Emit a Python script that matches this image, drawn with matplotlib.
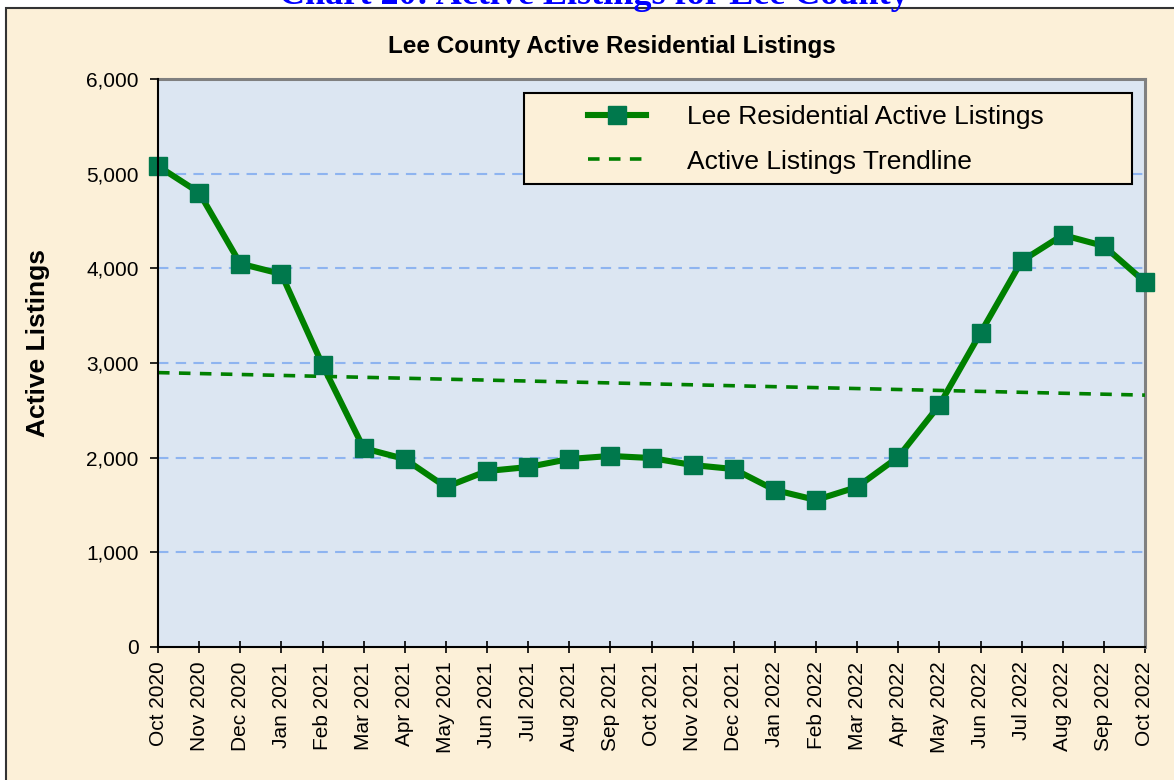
import numpy as np
import matplotlib
matplotlib.use("Agg")
import matplotlib.pyplot as plt
from matplotlib.patches import Rectangle
from matplotlib.ticker import FuncFormatter

months = ["Oct 2020", "Nov 2020", "Dec 2020", "Jan 2021", "Feb 2021", "Mar 2021",
          "Apr 2021", "May 2021", "Jun 2021", "Jul 2021", "Aug 2021", "Sep 2021",
          "Oct 2021", "Nov 2021", "Dec 2021", "Jan 2022", "Feb 2022", "Mar 2022",
          "Apr 2022", "May 2022", "Jun 2022", "Jul 2022", "Aug 2022", "Sep 2022",
          "Oct 2022"]
active_listings = [5080, 4800, 4050, 3940, 2980, 2100, 1986, 1690, 1859, 1901,
                   1986, 2018, 1996, 1922, 1880, 1658, 1553, 1690, 2007, 2556,
                   3317, 4077, 4352, 4236, 3856]
yticks = [0, 1000, 2000, 3000, 4000, 5000, 6000]

plt.rcParams['font.family'] = ['Liberation Sans', 'DejaVu Sans']

W, H = 1174, 780
fig = plt.figure(figsize=(W / 100, H / 100), dpi=100)
fig.patch.set_facecolor('white')

# outer chart box
fig.patches.append(Rectangle((6 / W, -0.1), 1.2, 1.1 - 8 / H, transform=fig.transFigure,
                             facecolor='#FCF0D8', edgecolor='#333333', linewidth=1.5,
                             zorder=-10))

# page title (cut off at the top)
fig.text(594 / W, 1 - 4 / H, "Chart 20: Active Listings for Lee County",
         ha='center', va='baseline', color='#0000FF', fontsize=26,
         fontweight='bold', family=['Liberation Serif', 'DejaVu Serif'])

left, right, top, bottom = 158, 1145, 79, 647
ax = fig.add_axes([left / W, 1 - bottom / H, (right - left) / W, (bottom - top) / H])
ax.set_facecolor('#DCE6F2')

x = np.arange(len(months))
y = np.array(active_listings, dtype=float)

# linear trendline
coef = np.polyfit(x, y, 1)
trend = np.polyval(coef, x)

ax.plot(x, trend, linestyle=(0, (3.2, 2.6)), color='#008000', linewidth=2.6,
        label='Active Listings Trendline', zorder=3)
ax.plot(x, y, color='#008000', linewidth=4.4, marker='s', markersize=13.5,
        markerfacecolor='#00784C', markeredgecolor='#00784C',
        label='Lee Residential Active Listings', zorder=4, clip_on=False)

ax.set_xlim(0, len(months) - 1)
ax.set_ylim(0, 6000)
ax.set_yticks(yticks)
ax.yaxis.set_major_formatter(FuncFormatter(lambda v, p: f"{int(v):,}"))
ax.set_xticks(x)
ax.set_xticklabels(months, rotation=90)

for v in yticks[1:-1]:
    ax.axhline(v, color='#8EB4F0', linewidth=1.5, linestyle=(0, (5, 3.5)), zorder=1)

ax.tick_params(axis='y', direction='out', length=6, width=1.2, labelsize=15, pad=8,
               colors='black')
ax.tick_params(axis='x', direction='inout', length=9, width=1.2, labelsize=15, pad=6,
               colors='black')

for s in ['left', 'bottom']:
    ax.spines[s].set_color('black')
    ax.spines[s].set_linewidth(1.5)
    ax.spines[s].set_zorder(5)
for s in ['top', 'right']:
    ax.spines[s].set_color('#808080')
    ax.spines[s].set_linewidth(2.2)

# legend box
lx0, lx1, ly0, ly1 = 524, 1132, 93, 184
ax.add_patch(Rectangle(((lx0 - left) / (right - left), (bottom - ly1) / (bottom - top)),
                       (lx1 - lx0) / (right - left), (ly1 - ly0) / (bottom - top),
                       transform=ax.transAxes, facecolor='#FCF0D8', edgecolor='black',
                       linewidth=1.5, zorder=6))
handles, labels = ax.get_legend_handles_labels()
leg = ax.legend(handles[::-1], labels[::-1], loc='upper left',
                bbox_to_anchor=((588 - left) / (right - left), (bottom - 105) / (bottom - top)),
                frameon=False, fontsize=19, borderpad=0, borderaxespad=0,
                handlelength=2.2, handletextpad=1.55, labelspacing=0.78)
leg.set_zorder(7)

fig.text(612 / W, 1 - 46 / H, "Lee County Active Residential Listings",
         ha='center', va='center', fontsize=17.5, fontweight='bold')
fig.text(38 / W, 1 - 343 / H, "Active Listings", ha='center', va='center',
         rotation=90, fontsize=19, fontweight='bold')

fig.savefig('out.png', dpi=100, facecolor=fig.get_facecolor())
